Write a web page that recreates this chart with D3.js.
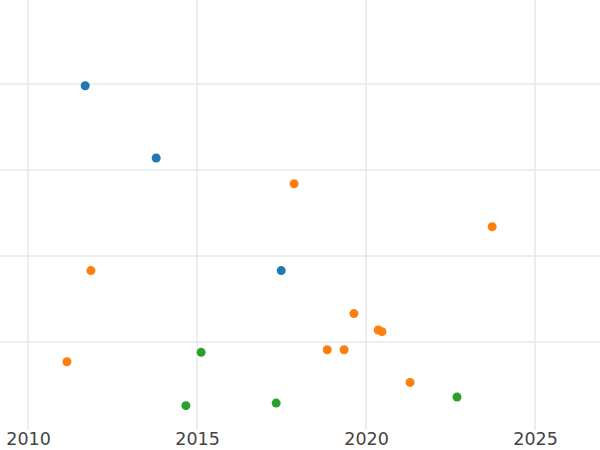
<!DOCTYPE html>
<html><head><meta charset="utf-8">
<script src="https://cdn.jsdelivr.net/npm/d3@7"></script>
<style>body{margin:0;background:#fff}</style></head>
<body><svg id="c" width="600" height="450"></svg>
<script>
const xTicks=[2010,2015,2020,2025];
const yGrid=[1,2,3,4];
const blueX=[2011.69,2013.79,2017.49], blueY=[3.98,3.14,1.83];
const orangeX=[2017.87,2023.73,2011.86,2019.64,2020.36,2020.47,2018.85,2019.35,2011.15,2021.30];
const orangeY=[2.84,2.34,1.83,1.33,1.14,1.12,0.91,0.91,0.77,0.53];
const greenX=[2015.12,2014.67,2017.34,2022.69], greenY=[0.88,0.26,0.29,0.36];
const series=[{x:blueX,y:blueY,c:"#1f77b4"},{x:orangeX,y:orangeY,c:"#ff7f0e"},{x:greenX,y:greenY,c:"#2ca02c"}];
const svg=d3.select("#c");
const x=d3.scaleLinear().domain([2009.17,2026.92]).range([0,600]);
const y=d3.scaleLinear().domain([0,5]).range([428,-2]);
svg.selectAll(".v").data(xTicks).join("line").attr("x1",d=>x(d)).attr("x2",d=>x(d)).attr("y1",0).attr("y2",430).attr("stroke","#e8e8e8").attr("stroke-width",1.5);
svg.selectAll(".h").data(yGrid).join("line").attr("x1",0).attr("x2",600).attr("y1",d=>y(d)).attr("y2",d=>y(d)).attr("stroke","#e8e8e8").attr("stroke-width",1.5);
const ax=svg.append("g").attr("transform","translate(0,430)").call(d3.axisBottom(x).tickValues(xTicks).tickFormat(d3.format("d")).tickSize(0).tickPadding(3));
ax.select(".domain").remove();
ax.selectAll("text").attr("font-family","DejaVu Sans").attr("font-size",17.5).attr("fill","#444");
series.forEach(s=>{
  svg.append("g").selectAll("circle").data(s.x.map((v,i)=>[v,s.y[i]])).join("circle")
   .attr("cx",d=>x(d[0])).attr("cy",d=>y(d[1])).attr("r",4.5).attr("fill",s.c);
});
</script></body></html>
